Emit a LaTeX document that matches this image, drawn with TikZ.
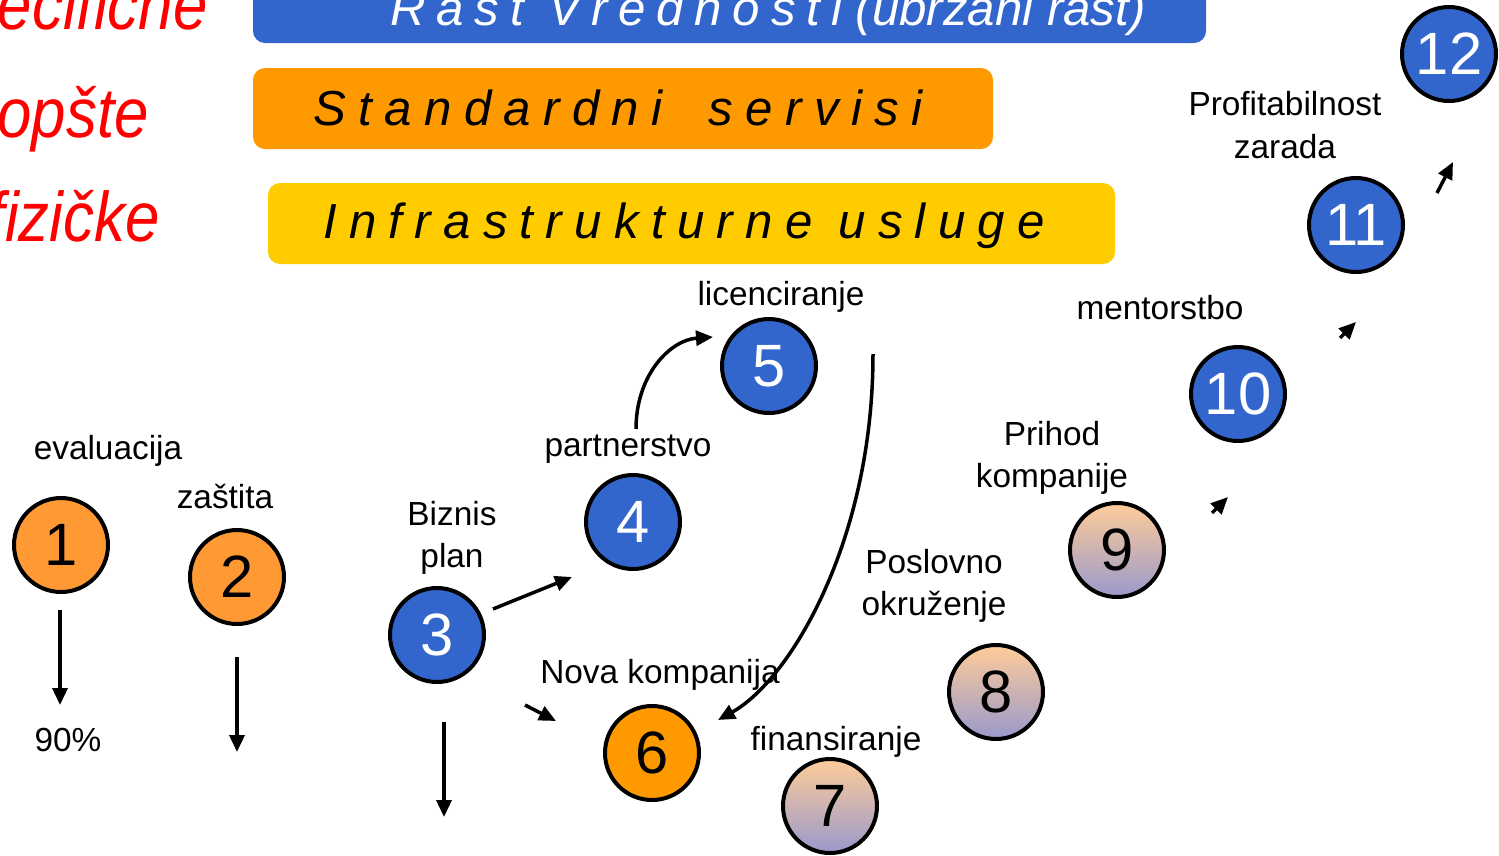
\documentclass[tikz,border=0pt]{standalone}
\usepackage{fontspec}
\setmainfont{Liberation Sans}
\newfontfamily\redfont[FakeStretch=0.88]{Liberation Sans}
\newfontfamily\bannerfont[LetterSpace=25]{Liberation Sans}
\usetikzlibrary{arrows.meta,calc,positioning}

\definecolor{nodeblue}{HTML}{3366CC}
\definecolor{nodeorange}{HTML}{FF9900}
\definecolor{lightorange}{HTML}{FF9933}
\definecolor{banneryellow}{HTML}{FFCC00}
\definecolor{peach}{HTML}{FFCC99}
\definecolor{lavender}{HTML}{9999CC}

\begin{document}
\begin{tikzpicture}[x=0.02cm,y=-0.02cm,>={Triangle[length=0.34cm,width=0.3cm]},
    main node/.style={circle,draw,line width=0.08cm,minimum size=1.88cm,inner sep=0pt,font=\fontsize{34}{34}\selectfont},
    bluenode/.style={main node,fill=nodeblue,text=white},
    orangenode/.style={main node,fill=nodeorange},
    lightnode/.style={main node,fill=lightorange},
    shadenode/.style={main node,top color=peach,bottom color=lavender},
    label node/.style={align=center,inner sep=0pt,font=\fontsize{19}{24}\selectfont},
    banner/.style={rounded corners=0.24cm},
    banner text/.style={anchor=base,inner sep=0pt,font=\bannerfont\itshape\fontsize{28}{28}\selectfont},
    side text/.style={anchor=base east,inner sep=0pt,text=red,font=\redfont\itshape\fontsize{40}{40}\selectfont},
    arrow/.style={->,line width=0.07cm}]

        \clip (0,0) rectangle (1499,856);
        \fill[white] (0,0) rectangle (1499,856);

        \fill[banner,nodeblue] (253,-40) rectangle (1206,43);
        \fill[banner,nodeorange] (253,68) rectangle (993,149);
        \fill[banner,banneryellow] (268,183) rectangle (1115,264);

        \node[banner text,text=white,font=\itshape\fontsize{28}{28}\selectfont] (rast) at (768,25) {{\addfontfeature{LetterSpace=22}Rast Vrednosti} (ubrzani rast)};
        \node[banner text] (standard) at (618,125) {Standardni\hspace{0.42em} servisi};
        \node[banner text] (infra) at (684,238) {Infrastrukturne usluge};

        \node[side text] (spec) at (208,29) {specifične};
        \node[side text] (opste) at (149,137) {opšte};
        \node[side text] (fizicke) at (160,241) {fizičke};

        \foreach \n/\x/\y/\s in {1/61/545/lightnode,2/237/577/lightnode,3/437/635/bluenode,
            4/633/522/bluenode,5/769/366/bluenode,6/652/753/orangenode,7/830/806/shadenode,
            8/996/692/shadenode,9/1117/550/shadenode,10/1238/394/bluenode,11/1356/225/bluenode,
            12/1449/54/bluenode}{
            \node[\s] (\n) at (\x,\y) {\n};
        }

        \node[label node] (evaluacija) at (108,451) {evaluacija};
        \node[label node] (zastita) at (225,497) {zaštita};
        \node[label node] (biznis) at (452,538) {Biznis\\plan};
        \node[label node] (partnerstvo) at (628,449) {partnerstvo};
        \node[label node] (licenciranje) at (781,297) {licenciranje};
        \node[label node] (nova) at (660,675) {Nova kompanija};
        \node[label node] (finansiranje) at (836,742) {finansiranje};
        \node[label node] (okruzenje) at (934,586) {Poslovno\\okruženje};
        \node[label node] (prihod) at (1052,458) {Prihod\\kompanije};
        \node[label node] (mentorstbo) at (1160,308) {mentorstbo};
        \node[label node] (profit) at (1285,125) {Profitabilnost\\zarada};
        \node[label node] (posto) at (68,740) {90\%};

        \draw[arrow] ($(1)+(-1,65)$) -- ($(1)+(-1,160)$);
        \draw[arrow] ($(2)+(0,80)$) -- ($(2)+(0,175)$);
        \draw[arrow] ($(3)+(7,87)$) -- ($(3)+(7,182)$);
        \draw[arrow] ($(3)+(56,-26)$) -- ($(4)+(-61,55)$);
        \draw[arrow] ($(3)+(88,70)$) -- ($(6)+(-96,-32)$);
        \draw[arrow] ($(4)+(3,-93)$) .. controls +(0,-54) and +(-43,3) .. ($(5)+(-56,-29)$);
        \draw[arrow] ($(5)+(104,-12)$) .. controls +(0,187) and +(72,-40) .. ($(6)+(66,-33)$);
        \draw[arrow] ($(9)+(95,-37)$) -- ($(9)+(111,-53)$);
        \draw[arrow] ($(10)+(102,-56)$) -- ($(10)+(118,-72)$);
        \draw[arrow] ($(11)+(81,-32)$) -- ($(11)+(97,-63)$);

\end{tikzpicture}
\end{document}
